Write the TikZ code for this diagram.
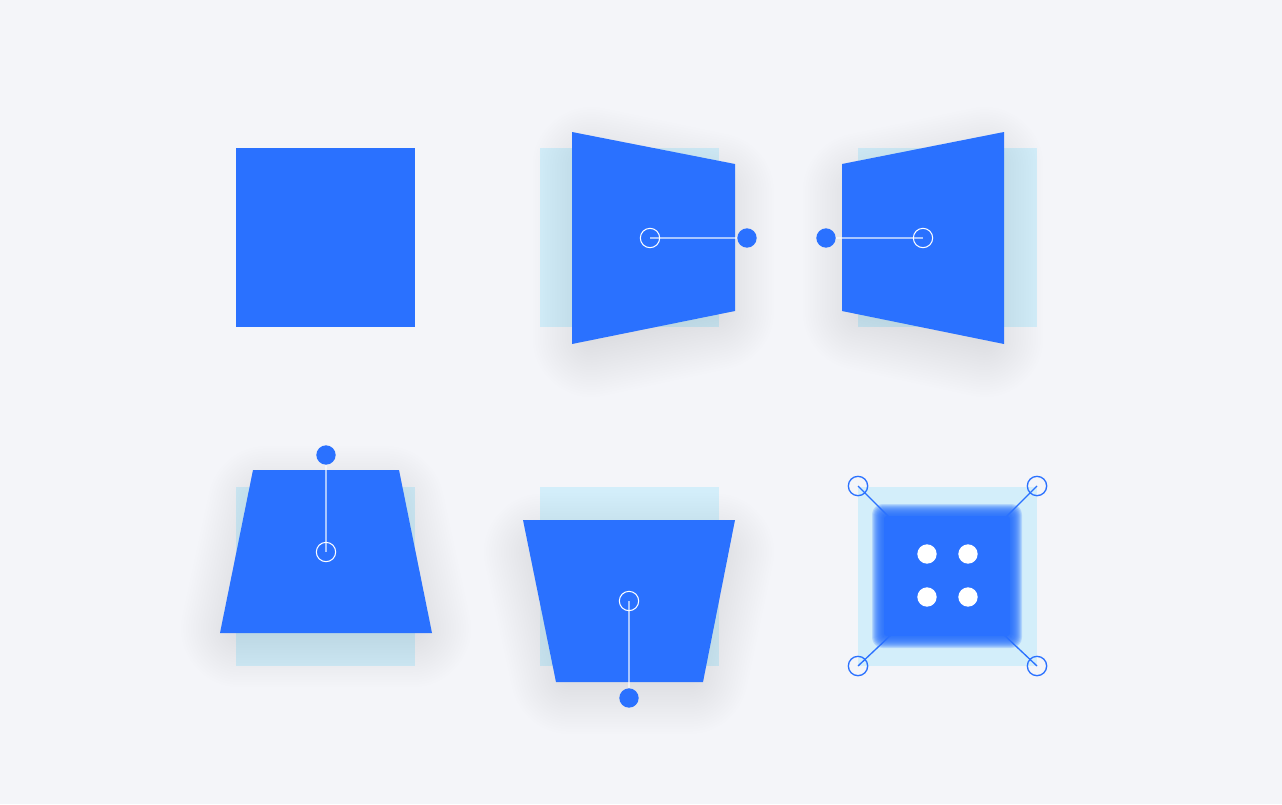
\documentclass[tikz,border=0pt]{standalone}
\definecolor{bg}{HTML}{F4F5F9}
\definecolor{bblue}{HTML}{2A71FF}
\definecolor{lblue}{HTML}{D3EEFA}
\definecolor{shc}{HTML}{2C3658}
% #1,#2 centre; #3,#4 inset scales; #5 outline path
\newcommand\castshadow[5]{%
  \foreach \k in {1,...,24}{%
    \begin{scope}[transparency group,opacity=0.0054]
      \filldraw[shc,line width=3.7pt*\k,line join=round,
        shift={(0,14)},shift={(#1,#2)},xscale=#3,yscale=#4,shift={(-#1,-#2)}] #5;
    \end{scope}
  }%
}
\begin{document}
\begin{tikzpicture}[x=0.75pt,y=-0.75pt,
  facet/.style={fill=bblue},
  ghost/.style={fill=lblue},
  hollow/.style={circle,draw=white,line width=0.8pt,minimum size=14.5pt,inner sep=0pt},
  bdot/.style={circle,fill=bblue,minimum size=14.5pt,inner sep=0pt},
  wdot/.style={circle,fill=white,minimum size=14.5pt,inner sep=0pt},
  link/.style={draw=white,draw opacity=0.6,line width=0.9pt},
  handle/.style={circle,draw=bblue,line width=1pt,minimum size=14.5pt,inner sep=0pt},
  hlink/.style={draw=bblue,line width=1pt}]
\fill[bg] (0,0) rectangle (1282,804);
\useasboundingbox (0,0) rectangle (1282,804);

% 1: plain square
\fill[facet] (236,148) rectangle (415,327);

% 2: left hinge
\fill[ghost] (540,148) rectangle (719,327);
\castshadow{653}{238}{0.755}{0.81}{(572,132) -- (735,164) -- (735,311) -- (572,344) -- cycle}
\fill[facet] (572,132) -- (735,164) -- (735,311) -- (572,344) -- cycle;
\node[hollow] (c2) at (650,238) {};
\node[bdot] (d2) at (747,238) {};
\draw[link] (c2.center) -- (d2);

% 3: right hinge
\fill[ghost] (858,148) rectangle (1037,327);
\castshadow{923}{238}{0.755}{0.81}{(842,164) -- (1004,132) -- (1004,344) -- (842,311) -- cycle}
\fill[facet] (842,164) -- (1004,132) -- (1004,344) -- (842,311) -- cycle;
\node[hollow] (c3) at (923,238) {};
\node[bdot] (d3) at (826,238) {};
\draw[link] (c3.center) -- (d3);

% 4: top tilt
\fill[ghost] (236,487) rectangle (415,666);
\castshadow{326}{556}{0.81}{0.755}{(253,470) -- (399,470) -- (432,633) -- (220,633) -- cycle}
\fill[facet] (253,470) -- (399,470) -- (432,633) -- (220,633) -- cycle;
\node[hollow] (c4) at (326,552) {};
\node[bdot] (d4) at (326,455) {};
\draw[link] (c4.center) -- (d4);

% 5: bottom tilt
\fill[ghost] (540,487) rectangle (719,666);
\castshadow{629}{596}{0.81}{0.755}{(523,520) -- (735,520) -- (703,682) -- (556,682) -- cycle}
\fill[facet] (523,520) -- (735,520) -- (703,682) -- (556,682) -- cycle;
\node[hollow] (c5) at (629,601) {};
\node[bdot] (d5) at (629,698) {};
\draw[link] (c5.center) -- (d5);

% 6: blur
\fill[ghost] (858,487) rectangle (1037,666);
\coordinate (q1) at (893,521);
\coordinate (q2) at (1002,521);
\coordinate (q3) at (893,633);
\coordinate (q4) at (1002,633);
\node[handle] (h1) at (858,486) {};
\node[handle] (h2) at (1037,486) {};
\node[handle] (h3) at (858,666) {};
\node[handle] (h4) at (1037,666) {};
\draw[hlink] (h1.center) -- (q1);
\draw[hlink] (h2.center) -- (q2);
\draw[hlink] (h3.center) -- (q3);
\draw[hlink] (h4.center) -- (q4);
\foreach \i in {0,...,11}{
  \fill[bblue,fill opacity=0.2,rounded corners=8pt-0.5pt*\i] (872+\i,504+\i) rectangle (1022-\i,648-\i);
}
\fill[bblue,rounded corners=2pt] (884,516) rectangle (1010,636);
\node[wdot] (p1) at (927,554) {};
\node[wdot] (p2) at (968,554) {};
\node[wdot] (p3) at (927,597) {};
\node[wdot] (p4) at (968,597) {};
\end{tikzpicture}
\end{document}
